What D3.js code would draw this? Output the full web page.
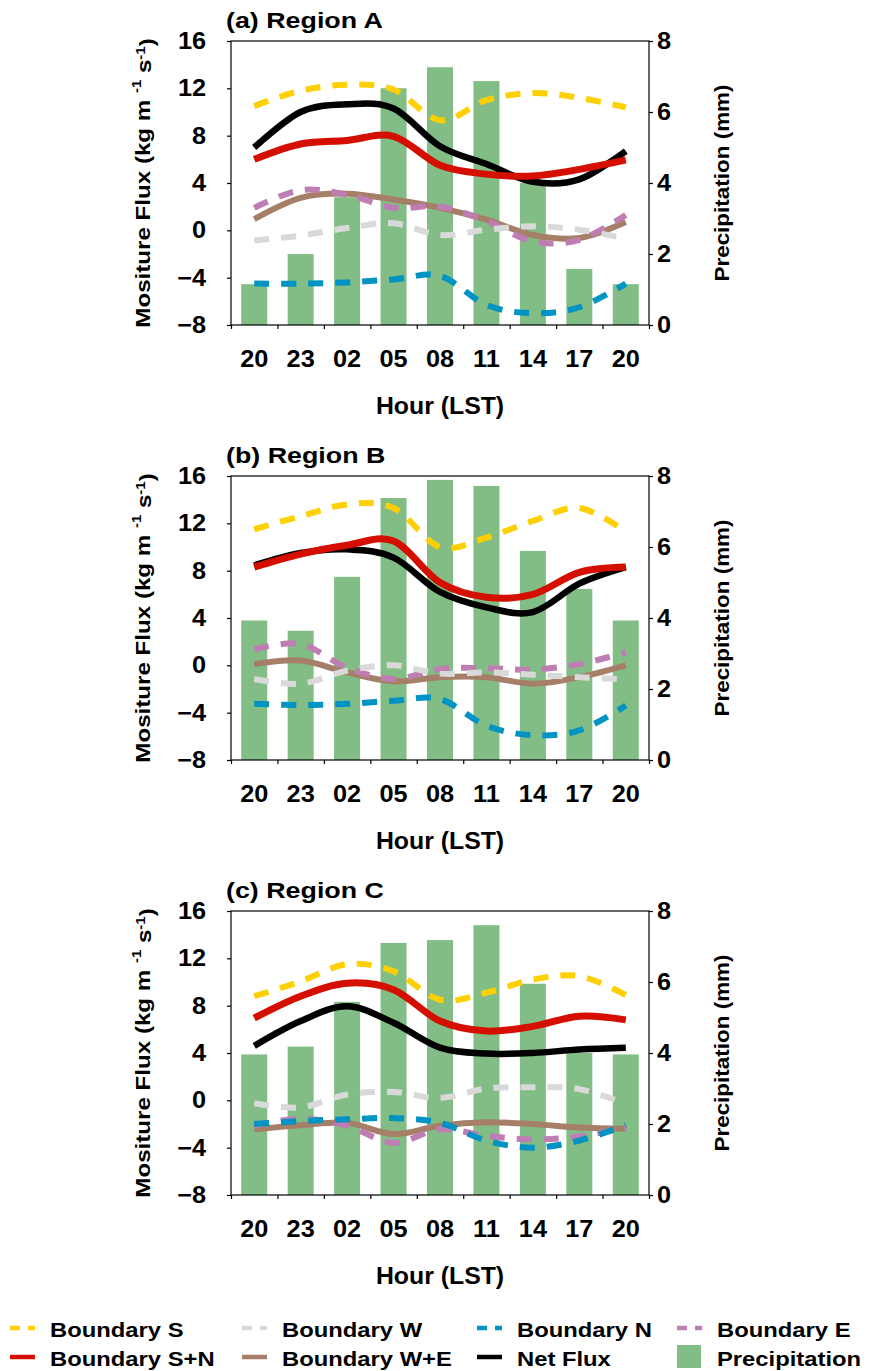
<!DOCTYPE html>
<html>
<head>
<meta charset="utf-8">
<script src="https://cdn.jsdelivr.net/npm/d3@7"></script>
<style>
  body { margin: 0; background: #fff; }
  svg { display: block; }
  text { font-family: "Liberation Sans", Arial, Helvetica, sans-serif; font-weight: bold; fill: #000; }
</style>
</head>
<body>
<svg id="chart" width="869" height="1371"></svg>
<script>
// Hour of day (LST) along the x axis
const hours = ["20", "23", "02", "05", "08", "11", "14", "17", "20"];
const fluxTicks = [-8, -4, 0, 4, 8, 12, 16];
const precipTicks = [0, 2, 4, 6, 8];
const panelTitles = ["(a) Region A", "(b) Region B", "(c) Region C"];
const seriesNames = ["Boundary S", "Boundary W", "Boundary N", "Boundary E",
                     "Boundary S+N", "Boundary W+E", "Net Flux", "Precipitation"];

// Region A (flux in kg m-1 s-1, precipitation in mm)
const precipA = [1.15, 2.0, 3.6, 6.67, 7.26, 6.87, 4.0, 1.58, 1.15];
const sA   = [10.5, 11.8, 12.3, 11.9, 9.3, 11.0, 11.6, 11.2, 10.4];
const wA   = [-0.85, -0.45, 0.2, 0.6, -0.4, 0.05, 0.35, 0.05, -0.7];
const nA   = [-4.5, -4.5, -4.4, -4.15, -3.85, -6.3, -7.0, -6.5, -4.5];
const eA   = [1.9, 3.4, 3.0, 1.9, 2.0, 0.8, -0.95, -0.8, 1.3];
const snA  = [6.0, 7.3, 7.6, 7.95, 5.5, 4.75, 4.6, 5.15, 5.95];
const weA  = [0.95, 2.75, 3.1, 2.6, 1.9, 0.9, -0.4, -0.65, 0.7];
const netA = [7.0, 10.0, 10.65, 10.3, 7.1, 5.6, 4.1, 4.3, 6.7];

// Region B
const precipB = [3.93, 3.64, 5.16, 7.38, 7.89, 7.72, 5.89, 4.82, 3.93];
const sB   = [11.5, 12.6, 13.6, 13.3, 10.0, 10.8, 12.2, 13.3, 11.3];
const wB   = [-1.15, -1.55, -0.45, 0.0, -0.7, -0.6, -0.8, -1.0, -1.2];
const nB   = [-3.25, -3.35, -3.25, -3.0, -2.85, -5.1, -5.9, -5.5, -3.4];
const eB   = [1.35, 1.8, -0.2, -1.15, -0.3, -0.25, -0.35, 0.1, 1.1];
const snB  = [8.3, 9.4, 10.15, 10.5, 7.0, 5.75, 6.0, 7.85, 8.3];
const weB  = [0.1, 0.4, -0.6, -1.35, -1.0, -1.0, -1.55, -1.0, 0.0];
const netB = [8.45, 9.5, 9.8, 9.1, 6.2, 4.9, 4.5, 6.9, 8.3];

// Region C
const precipC = [3.96, 4.18, 5.44, 7.1, 7.18, 7.6, 5.95, 4.0, 3.96];
const sC   = [8.8, 10.05, 11.5, 10.9, 8.5, 9.1, 10.2, 10.5, 8.9];
const wC   = [-0.25, -0.6, 0.5, 0.7, 0.2, 1.0, 1.1, 0.95, -0.3];
const nC   = [-2.0, -1.75, -1.6, -1.5, -1.9, -3.4, -4.0, -3.4, -2.1];
const eC   = [-2.15, -1.55, -2.15, -3.6, -2.45, -3.0, -3.3, -3.05, -2.3];
const snC  = [6.95, 8.8, 9.9, 9.35, 6.7, 5.85, 6.25, 7.1, 6.8];
const weC  = [-2.45, -2.1, -1.9, -2.85, -2.15, -1.85, -2.0, -2.3, -2.4];
const netC = [4.6, 6.7, 7.95, 6.55, 4.45, 3.95, 4.0, 4.3, 4.45];

// Series styling, keyed by legend name
const style = {
  "Boundary S":   { color: "#FFD000", dash: true,  width: 6 },
  "Boundary W":   { color: "#D9D9D9", dash: true,  width: 6 },
  "Boundary N":   { color: "#0093C4", dash: true,  width: 6 },
  "Boundary E":   { color: "#BF7EB3", dash: true,  width: 6 },
  "Boundary S+N": { color: "#D40F00", dash: false, width: 7 },
  "Boundary W+E": { color: "#A67F68", dash: false, width: 6 },
  "Net Flux":     { color: "#000000", dash: false, width: 6.5 },
  "Precipitation":{ color: "#81BD85" }
};

const panels = [
  { title: panelTitles[0], top: 41,  precip: precipA,
    lines: { "Boundary S": sA, "Boundary W": wA, "Boundary N": nA, "Boundary E": eA,
             "Boundary S+N": snA, "Boundary W+E": weA, "Net Flux": netA } },
  { title: panelTitles[1], top: 476, precip: precipB,
    lines: { "Boundary S": sB, "Boundary W": wB, "Boundary N": nB, "Boundary E": eB,
             "Boundary S+N": snB, "Boundary W+E": weB, "Net Flux": netB } },
  { title: panelTitles[2], top: 911, precip: precipC,
    lines: { "Boundary S": sC, "Boundary W": wC, "Boundary N": nC, "Boundary E": eC,
             "Boundary S+N": snC, "Boundary W+E": weC, "Net Flux": netC } }
];

// Solid lines first, dashed lines drawn over them
const drawOrder = ["Net Flux", "Boundary S+N", "Boundary W+E",
                   "Boundary E", "Boundary N", "Boundary W", "Boundary S"];

const svg = d3.select("#chart");
const left = 231, right = 649, plotH = 284;
const SX = 1.1; // horizontal widening of the bold tick labels

function label(g, x, y, s, size, anchor, sx) {
  return g.append("text")
    .attr("transform", `translate(${x},${y}) scale(${sx},1)`)
    .attr("font-size", size)
    .attr("text-anchor", anchor)
    .text(s);
}

function styleAxis(g, size) {
  g.attr("font-size", null).attr("font-family", null);
  g.selectAll(".tick line").attr("stroke", "#000").attr("stroke-width", 1.2);
  g.selectAll(".tick text").attr("font-size", size).attr("fill", "#000");
  g.select(".domain").remove();
}

const x = d3.scaleBand().domain(d3.range(hours.length))
  .range([left, right]).paddingInner(0.44).paddingOuter(0.22);
const xEdge = d3.scaleLinear().domain([0, hours.length]).range([left, right]);
const cx = i => x(i) + x.bandwidth() / 2;

panels.forEach(p => {
  const top = p.top, bottom = top + plotH;
  const g = svg.append("g");
  const yF = d3.scaleLinear().domain([-8, 16]).range([bottom, top]);
  const yP = d3.scaleLinear().domain([0, 8]).range([bottom, top]);

  // precipitation bars
  g.append("g").selectAll("rect").data(p.precip).join("rect")
    .attr("x", (d, i) => x(i)).attr("width", x.bandwidth())
    .attr("y", d => yP(d)).attr("height", d => bottom - yP(d))
    .attr("fill", style["Precipitation"].color);

  // flux curves
  const line = d3.line().x((d, i) => cx(i)).y(d => yF(d))
    .curve(d3.curveCatmullRom.alpha(0));
  drawOrder.forEach(name => {
    const st = style[name];
    g.append("path").datum(p.lines[name])
      .attr("d", line).attr("fill", "none")
      .attr("stroke", st.color).attr("stroke-width", st.width)
      .attr("stroke-linejoin", "round")
      .attr("stroke-linecap", "butt")
      .attr("stroke-dasharray", st.dash ? "15,12" : null);
  });

  // frame
  g.append("rect").attr("x", left).attr("y", top)
    .attr("width", right - left).attr("height", plotH)
    .attr("fill", "none").attr("stroke", "#000").attr("stroke-width", 1.2);

  // left axis
  const ax = g.append("g").attr("transform", `translate(${left},0)`)
    .call(d3.axisLeft(yF).tickValues(fluxTicks).tickSize(4).tickPadding(21));
  styleAxis(ax, 23);
  ax.selectAll(".tick text").each(function () {
    const t = d3.select(this);
    t.attr("x", +t.attr("x") / SX).attr("transform", `scale(${SX},1)`);
  });

  // right axis
  const ay = g.append("g").attr("transform", `translate(${right},0)`)
    .call(d3.axisRight(yP).tickValues(precipTicks).tickSize(4).tickPadding(4));
  styleAxis(ay, 23);
  ay.selectAll(".tick text").each(function () {
    const t = d3.select(this);
    t.attr("x", +t.attr("x") / SX).attr("transform", `scale(${SX},1)`);
  });

  // bottom edge ticks between categories
  const ae = g.append("g").attr("transform", `translate(0,${bottom})`)
    .call(d3.axisBottom(xEdge).tickValues(d3.range(hours.length + 1)).tickSize(4).tickFormat(""));
  styleAxis(ae, 23);

  // hour labels
  const ab = g.append("g").attr("transform", `translate(0,${bottom})`)
    .call(d3.axisBottom(x).tickSize(0).tickFormat(i => hours[i]));
  styleAxis(ab, 23);
  ab.selectAll(".tick text").attr("y", 42).attr("dy", 0)
    .attr("transform", `scale(${SX},1)`);

  // titles
  label(g, left - 5, top - 13, p.title, 22, "start", 1.22);
  label(g, (left + right) / 2, bottom + 89, "Hour (LST)", 23, "middle", 1.08);

  const yl = g.append("text")
    .attr("transform", `translate(143,${(top + bottom) / 2}) rotate(-90) scale(1.15,1)`)
    .attr("text-anchor", "middle").attr("dy", "0.35em").attr("font-size", 21);
  yl.append("tspan").text("Mositure Flux (kg m ");
  yl.append("tspan").attr("font-size", 13).attr("dy", "-0.7em").text("-1");
  yl.append("tspan").attr("dy", "0.45em").text(" s");
  yl.append("tspan").attr("font-size", 13).attr("dy", "-0.45em").text("-1");
  yl.append("tspan").attr("dy", "0.45em").text(")");

  g.append("text")
    .attr("transform", `translate(722,${(top + bottom) / 2}) rotate(-90) scale(1.07,1)`)
    .attr("text-anchor", "middle").attr("dy", "0.35em").attr("font-size", 21)
    .text("Precipitation (mm)");
});

// legend: two rows of four entries
const legCols = [10, 242, 477, 677];
const legRows = [1328, 1357];
const lg = svg.append("g");
seriesNames.forEach((name, k) => {
  const col = legCols[k % 4], row = legRows[Math.floor(k / 4)];
  const st = style[name];
  if (name === "Precipitation") {
    lg.append("rect").attr("x", col).attr("y", row - 12)
      .attr("width", 24).attr("height", 23).attr("fill", st.color);
  } else {
    lg.append("line").attr("x1", col).attr("x2", col + 25)
      .attr("y1", row).attr("y2", row)
      .attr("stroke", st.color).attr("stroke-width", 4.5)
      .attr("stroke-dasharray", st.dash ? "10,8" : null);
  }
  label(lg, col + 40, row + 9, name, 19.5, "start", 1.22);
});
</script>
</body>
</html>
